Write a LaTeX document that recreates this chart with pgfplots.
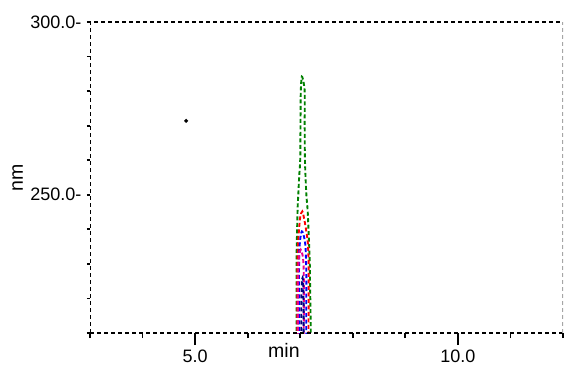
\documentclass[border=0pt]{standalone}
\usepackage{fontspec}
\setmainfont{Liberation Sans}
\usepackage{pgfplots}
\pgfplotsset{compat=1.18}
\definecolor{cgreen}{RGB}{0,128,0}
\definecolor{cnavy}{RGB}{0,0,128}
\begin{document}
\begin{tikzpicture}
\begin{axis}[name=ax,
  scale only axis, width=473pt, height=311pt,
  xmin=3, xmax=12, ymin=210, ymax=300,
  axis line style={draw=none},
  clip=true,
  tick align=outside,
  xtick={5,10}, xticklabels={5.0,10.0},
  minor xtick={3,4,6,7,8,9,11,12},
  ytick={250,300}, yticklabels={250.0-,300.0-},
  minor ytick={210,220,230,240,260,270,280,290},
  major tick length=12pt, minor tick length=5pt,
  y tick style={/pgfplots/major tick length=3pt,/pgfplots/minor tick length=3pt},
  every tick/.style={black, line width=1.8pt},
  xtick pos=bottom, ytick pos=left,
  /pgf/number format/assume math mode=true,
  tick label style={font=\fontsize{18}{18}\selectfont},
  yticklabel style={xshift=7pt},
  xticklabel style={yshift=-1pt},
  label style={font=\fontsize{19.5}{19.5}\selectfont},
  xlabel={min}, ylabel={nm},
  xlabel style={at={(axis description cs:0.41,0)}, anchor=base, yshift=-24pt},
  ylabel style={at={(axis description cs:-0.142,0.5)}, anchor=base},
  every axis plot/.append style={line width=1.9pt, dash pattern=on 4pt off 2.5pt, smooth, tension=0.5},
]
% outer green contour
\addplot[cgreen] coordinates {(6.93,205) (6.93,215) (6.93,231) (6.95,245.7) (6.965,250.5) (6.98,255.3) (7.00,260.1) (7.005,269.7) (7.01,279.4) (7.03,284.2) (7.07,282) (7.085,279.4) (7.085,269.7) (7.09,260.1) (7.115,250.5) (7.14,245.7) (7.155,240.8) (7.18,231.2) (7.19,221.6) (7.20,211.9) (7.20,205)};
% red
\addplot[red] coordinates {(6.945,205) (6.945,222) (6.95,232) (6.97,238.5) (7.00,243.5) (7.04,245.2) (7.075,243) (7.11,240) (7.145,236) (7.16,230) (7.16,220) (7.155,205)};
% blue
\addplot[blue] coordinates {(6.975,205) (6.975,221.6) (6.98,231.2) (6.995,236.5) (7.03,239.4) (7.07,238) (7.10,235) (7.115,228) (7.115,218) (7.115,205)};
% magenta
\addplot[magenta] coordinates {(6.955,205) (6.955,220) (6.965,229) (6.985,232.8) (7.01,234.1) (7.045,232.5) (7.065,229) (7.07,220) (7.065,205)};
% navy
\addplot[cnavy] coordinates {(7.02,205) (7.02,218) (7.03,224.5) (7.045,226) (7.06,223) (7.065,215) (7.065,205)};
% small dot
\addplot[black, only marks, mark=*, mark size=0.8pt, solid] coordinates {(4.83,271.4)};
% axis frame
\draw[black, line width=2pt, dash pattern=on 4pt off 3pt] (rel axis cs:0,0) -- (rel axis cs:0,1) -- (rel axis cs:1,1);
\draw[black, line width=2pt, dash pattern=on 4pt off 3pt] (rel axis cs:0,0) -- (rel axis cs:1,0);
\draw[gray!70, line width=1.4pt, dash pattern=on 4pt off 3pt] (rel axis cs:1,0) -- (rel axis cs:1,1);
\end{axis}
\pgfresetboundingbox
\path ([shift={(-90pt,-33pt)}]ax.south west) rectangle ([shift={(1pt,22pt)}]ax.north east);
\end{tikzpicture}
\end{document}
